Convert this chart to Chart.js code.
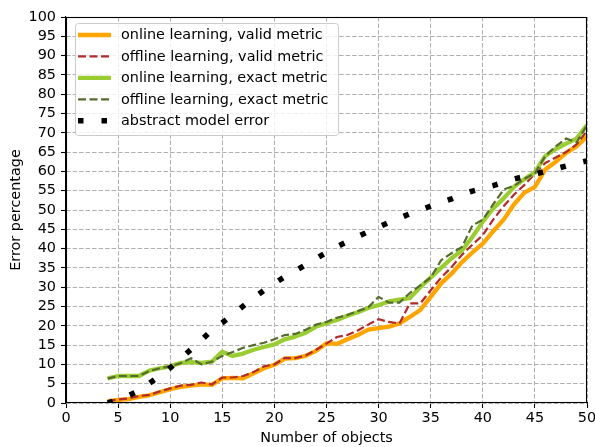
<!DOCTYPE html>
<html><head><meta charset="utf-8">
<script src="https://cdn.jsdelivr.net/npm/chart.js@4.4.1/dist/chart.umd.min.js"></script>
<style>html,body{margin:0;padding:0;background:#fff}#wrap{width:595px;height:447px}</style>
</head><body><div id="wrap"><canvas id="c" width="595" height="447"></canvas></div>
<script>
const objects = [4,5,6,7,8,9,10,11,12,13,14,15,16,17,18,19,20,21,22,23,24,25,26,27,28,29,30,31,32,33,34,35,36,37,38,39,40,41,42,43,44,45,46,47,48,49,50];
const onlineValid = [0.5,0.8,1.0,1.6,2.0,2.8,3.6,4.2,4.5,4.8,4.7,6.4,6.5,6.4,7.7,9.0,9.9,11.5,11.6,12.2,13.5,15.5,15.3,16.5,17.6,19.0,19.4,19.8,20.6,22.3,24.1,27.5,31.0,33.5,36.5,39.0,41.3,44.5,47.5,51.5,54.5,56.0,60.5,62.5,64.8,66.5,69.0];
const offlineValid = [0.5,0.9,1.2,1.8,2.1,3.0,3.8,4.5,4.7,5.3,4.8,6.6,6.6,7.0,8.0,9.5,10.0,11.7,11.6,12.3,13.8,15.4,17.1,17.6,18.8,20.3,21.7,21.0,20.6,25.8,25.8,29.2,32.5,35.2,38.4,41.0,43.5,47.5,51.0,54.0,56.5,59.4,62.2,63.6,65.0,67.0,70.5];
const onlineExact = [6.4,7.0,7.0,7.0,8.4,9.0,9.5,10.4,10.6,10.4,10.7,13.3,12.2,12.8,13.8,14.5,15.2,16.5,17.2,18.2,19.8,20.7,21.5,22.6,23.5,24.6,25.4,26.3,26.8,27.2,30.0,32.5,35.0,37.5,39.5,43.0,47.0,50.4,53.0,56.0,58.0,59.8,64.0,65.8,67.2,68.5,72.0];
const offlineExact = [6.3,7.0,7.0,7.0,8.3,9.0,9.5,10.3,11.6,10.0,10.7,12.2,13.2,14.3,15.0,15.6,16.5,17.6,17.9,19.0,20.3,21.0,22.1,22.8,23.8,24.8,27.5,26.0,26.0,28.5,30.5,32.5,37.0,38.8,40.4,46.0,47.5,51.5,55.3,56.3,58.1,59.5,64.0,66.5,68.5,67.5,72.0];
const abstractModel = [0.0,0.9,1.9,3.2,5.1,7.0,9.1,11.5,13.9,16.3,18.9,20.8,22.9,25.1,27.2,29.2,31.0,32.7,34.2,35.8,37.4,39.0,40.5,41.8,43.1,44.4,45.6,46.8,47.9,49.0,50.0,51.0,52.0,52.9,54.0,54.9,55.6,56.3,57.2,58.0,58.7,59.3,60.0,60.7,61.4,62.1,62.7];
const seriesLabels = ['online learning, valid metric','offline learning, valid metric','online learning, exact metric','offline learning, exact metric','abstract model error'];
const xTicks = [0,5,10,15,20,25,30,35,40,45,50];
const yTicks = [0,5,10,15,20,25,30,35,40,45,50,55,60,65,70,75,80,85,90,95,100];

const FONT = "'DejaVu Sans', sans-serif";
const FS = 14.4;
Chart.defaults.font.family = FONT;
Chart.defaults.font.size = FS;
Chart.defaults.color = '#000';

const mk = ys => objects.map((x, i) => ({x: x, y: ys[i]}));

const framePlugin = {
  id: 'frameLegend',
  afterDraw(chart) {
    const ctx = chart.ctx, a = chart.chartArea;
    ctx.save();
    // frame
    ctx.setLineDash([]);
    ctx.strokeStyle = '#000';
    ctx.lineWidth = 1.1;
    ctx.strokeRect(Math.round(a.left) + 0.5, Math.round(a.top) + 0.5, Math.round(a.right - a.left) - 1, Math.round(a.bottom - a.top) - 1);
    // legend
    const L = {x: 75.5, y: 23.5, w: 263, h: 112, r: 3};
    ctx.beginPath();
    ctx.moveTo(L.x + L.r, L.y);
    ctx.lineTo(L.x + L.w - L.r, L.y);
    ctx.quadraticCurveTo(L.x + L.w, L.y, L.x + L.w, L.y + L.r);
    ctx.lineTo(L.x + L.w, L.y + L.h - L.r);
    ctx.quadraticCurveTo(L.x + L.w, L.y + L.h, L.x + L.w - L.r, L.y + L.h);
    ctx.lineTo(L.x + L.r, L.y + L.h);
    ctx.quadraticCurveTo(L.x, L.y + L.h, L.x, L.y + L.h - L.r);
    ctx.lineTo(L.x, L.y + L.r);
    ctx.quadraticCurveTo(L.x, L.y, L.x + L.r, L.y);
    ctx.closePath();
    ctx.fillStyle = 'rgba(255,255,255,0.8)';
    ctx.fill();
    ctx.strokeStyle = '#cccccc';
    ctx.lineWidth = 1;
    ctx.stroke();
    chart.data.datasets.forEach((ds, i) => {
      const y = 35 + i * 21.45;
      ctx.beginPath();
      ctx.setLineDash(ds.borderDash || []);
      ctx.lineDashOffset = 0;
      ctx.lineCap = 'butt';
      ctx.strokeStyle = ds.borderColor;
      ctx.lineWidth = ds.borderWidth;
      ctx.moveTo(78, y);
      ctx.lineTo(111, y);
      ctx.stroke();
      ctx.setLineDash([]);
      ctx.fillStyle = '#000';
      ctx.font = FS + 'px ' + FONT;
      ctx.textBaseline = 'middle';
      ctx.textAlign = 'left';
      ctx.fillText(ds.label, 121, y + 0.5);
    });
    ctx.restore();
  }
};

const gridOpts = {color: '#b0b0b0', lineWidth: 1, tickLength: 5, tickColor: '#000', tickWidth: 1.1};

new Chart(document.getElementById('c'), {
  type: 'line',
  data: {
    datasets: [
      {label: seriesLabels[0], data: mk(onlineValid), borderColor: '#FFA500', borderWidth: 4.3, order: 5, borderJoinStyle: 'round'},
      {label: seriesLabels[1], data: mk(offlineValid), borderColor: '#B22A2A', borderWidth: 2.2, borderDash: [8, 3.5], order: 4},
      {label: seriesLabels[2], data: mk(onlineExact), borderColor: '#9ACD32', borderWidth: 4.3, order: 3, borderJoinStyle: 'round'},
      {label: seriesLabels[3], data: mk(offlineExact), borderColor: '#556B2F', borderWidth: 2.2, borderDash: [8, 3.5], order: 2},
      {label: seriesLabels[4], data: mk(abstractModel), borderColor: '#000000', borderWidth: 5.5, borderDash: [5.5, 18], order: 1}
    ]
  },
  options: {
    responsive: false,
    animation: false,
    devicePixelRatio: 1,
    layout: {padding: {top: 17, right: 8, left: 0, bottom: 0}},
    plugins: {legend: {display: false}, tooltip: {enabled: false}},
    elements: {point: {radius: 0, hoverRadius: 0}, line: {tension: 0, fill: false}},
    scales: {
      x: {
        type: 'linear', min: 0, max: 50,
        afterBuildTicks: s => { s.ticks = xTicks.map(v => ({value: v})); },
        ticks: {padding: 2, maxRotation: 0, autoSkip: false},
        grid: gridOpts,
        border: {display: true, color: '#000', width: 1.1, dash: [4.5, 2]},
        title: {display: true, text: 'Number of objects', padding: {top: 0, bottom: 0}},
        afterFit: s => { s.height = 44; s.paddingLeft = 0; s.paddingRight = 0; }
      },
      y: {
        type: 'linear', min: 0, max: 100,
        afterBuildTicks: s => { s.ticks = yTicks.map(v => ({value: v})); },
        ticks: {padding: 5, autoSkip: false},
        grid: gridOpts,
        border: {display: true, color: '#000', width: 1.1, dash: [4.5, 2]},
        title: {display: true, text: 'Error percentage', padding: {top: 8, bottom: 0}},
        afterFit: s => { s.width = 66; s.paddingTop = 0; s.paddingBottom = 0; }
      }
    }
  },
  plugins: [framePlugin]
});
</script>
</body></html>
